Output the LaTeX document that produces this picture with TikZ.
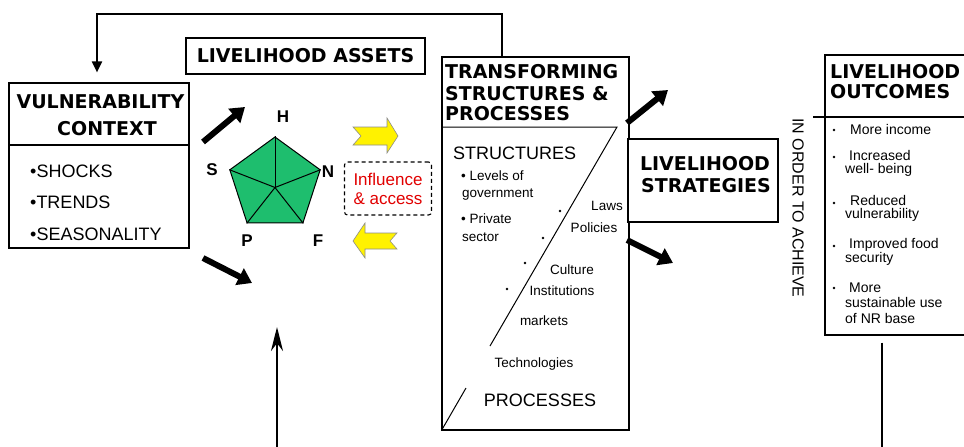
\documentclass[tikz,border=0pt]{standalone}
\usepackage{fontspec}
\setmainfont{Liberation Sans}
\newfontfamily\heavy{DejaVu Sans}
\usetikzlibrary{arrows.meta,shapes.geometric}
\definecolor{assetgreen}{RGB}{30,190,110}
\definecolor{inflred}{RGB}{225,0,0}
\tikzset{
  box/.style={draw, line width=1.2pt},
  hd/.style={font=\heavy\bfseries\fontsize{19}{21}\selectfont, inner sep=0pt},
  txt/.style={font=\fontsize{18}{20}\selectfont, inner sep=0pt},
  sm/.style={font=\fontsize{13.5}{15}\selectfont, inner sep=0pt},
  res/.style={font=\fontsize{14}{15}\selectfont, inner sep=0pt, anchor=base west},
  lbl/.style={font=\bfseries\fontsize{17}{17}\selectfont, inner sep=0pt},
  fat/.style={line width=6pt, -{Triangle[length=14pt,width=18pt]}},
  link/.style={line width=2pt, -{Triangle[length=11pt,width=10pt]}},
  yarrow/.style={draw=black!45, line width=0.6pt, fill=yellow}
}
\begin{document}
\begin{tikzpicture}[x=1pt, y=-1pt]
  \useasboundingbox (0,0) rectangle (964,447);
  \clip (0,0) rectangle (964,447);

  \node[box, minimum width=180pt, minimum height=165pt] (VC) at (99,165.5) {};
  \node[box, hd, minimum width=239pt, minimum height=36pt] (LA) at (305.5,56) {LIVELIHOOD ASSETS};
  \node[box, minimum width=187pt, minimum height=373pt] (TS) at (535.5,243.5) {};
  \node[box, fill=white, minimum width=150pt, minimum height=83pt] (LS) at (703,180.5) {};
  \node[box, minimum width=150pt, minimum height=280pt] (LO) at (900,195) {};
  \draw[line width=1.2pt] (VC.west |- 0,145) -- (VC.east |- 0,145);
  \draw[line width=1.2pt] (813,117) -- (LO.east |- 0,117);
  \draw[line width=1pt] (TS.west |- 0,127) -- (617,127) -- (490,346);
  \draw[line width=1pt] (466,388) -- (TS.south west);

  \coordinate (fbL) at (97,14);
  \draw[link] ([xshift=61pt]TS.north west) |- (fbL) -- ([yshift=10pt]VC.north -| fbL);
  \coordinate (up) at (277,447);
  \draw[line width=2.5pt, -{Stealth[length=24pt,width=12pt]}] (up) -- ++(0,-120);
  \coordinate (down) at (882,447);
  \draw[line width=2.5pt] ([yshift=-7pt]LO.south -| down) -- (down);

  \draw[fat] (203,142) -- (245,107);
  \draw[fat] (203,258) -- (252,283);
  \draw[fat] (627,123) -- (668,90);
  \draw[fat] (627,240) -- (673,263);

  \node[hd, anchor=base] at (100.5,108) {VULNERABILITY};
  \node[hd, anchor=base] at (107,135) {CONTEXT};
  \foreach \y/\t in {177/SHOCKS, 208/TRENDS, 240/SEASONALITY}
    \node[txt, anchor=base west] at (30,\y) {•\t};

  \node[regular polygon, regular polygon sides=5, minimum size=95pt, inner sep=0pt, draw, line width=1pt, fill=assetgreen] (pent) at (275,184.5) {};
  \foreach \c in {1,...,5}
    \draw[line width=1pt] ([yshift=-3pt]pent.center) -- (pent.corner \c);
  \foreach \l/\x/\y in {H/283/117, S/212/170, N/328/172, P/247/241, F/318/241}
    \node[lbl] (\l) at (\x,\y) {\l};

  \draw[yarrow] (353,127) -- (387,127) -- (387,118) -- (398,136) -- (387,153) -- (387,145) -- (353,145) -- (361,136) -- cycle;
  \draw[yarrow] (353,241) -- (365,223) -- (365,233) -- (397,233) -- (390,241) -- (397,249) -- (365,249) -- (365,258) -- cycle;
  \node[draw, dash pattern=on 4pt off 3pt, line width=1.1pt, rounded corners=3pt, minimum width=87pt, minimum height=53pt, align=center, text=inflred, font=\fontsize{17}{19}\selectfont] (IA) at (388,188.5) {Influence\\\& access};

  \foreach \y/\t in {78/TRANSFORMING, 100/STRUCTURES \&, 120/PROCESSES}
    \node[hd, anchor=base west] at (445,\y) {\t};
  \node[txt, anchor=base west] (ST) at (453,159) {STRUCTURES};
  \node[txt, anchor=base] (PR) at (540,406) {PROCESSES};
  \foreach \x/\y/\t in {461/180/• Levels of, 462/197/government, 461/223/• Private, 462/241/sector}
    \node[sm, anchor=base west] at (\x,\y) {\t};
  \foreach \x/\y/\t in {607/210/Laws, 594/232/Policies, 572/274/Culture, 562/295/Institutions, 544/325/markets, 534/367/Technologies}
    \node[sm, anchor=base] at (\x,\y) {\t};
  \foreach \x/\y in {560/211, 543/238, 525/263, 507/289}
    \fill (\x,\y) circle (1.4pt);

  \node[hd, anchor=base] at (705,170) {LIVELIHOOD};
  \node[hd, anchor=base] at (706,192) {STRATEGIES};

  \node[font=\fontsize{16}{16}\selectfont, rotate=-90] (IO) at (798,208) {IN ORDER TO ACHIEVE};

  \node[hd, anchor=base west] at (830,78) {LIVELIHOOD};
  \node[hd, anchor=base west] at (830,98) {OUTCOMES};
  \foreach \x/\y/\t in {850/134/More income, 849/160/Increased, 845/173/well- being, 850/205/Reduced, 845/218/vulnerability, 849/248/Improved food, 845/262/security, 849/292/More, 845/307/sustainable use, 845/323/of NR base}
    \node[res] at (\x,\y) {\t};
  \foreach \y in {130,157,203,246,288}
    \fill (834,\y) circle (1.3pt);
\end{tikzpicture}
\end{document}
